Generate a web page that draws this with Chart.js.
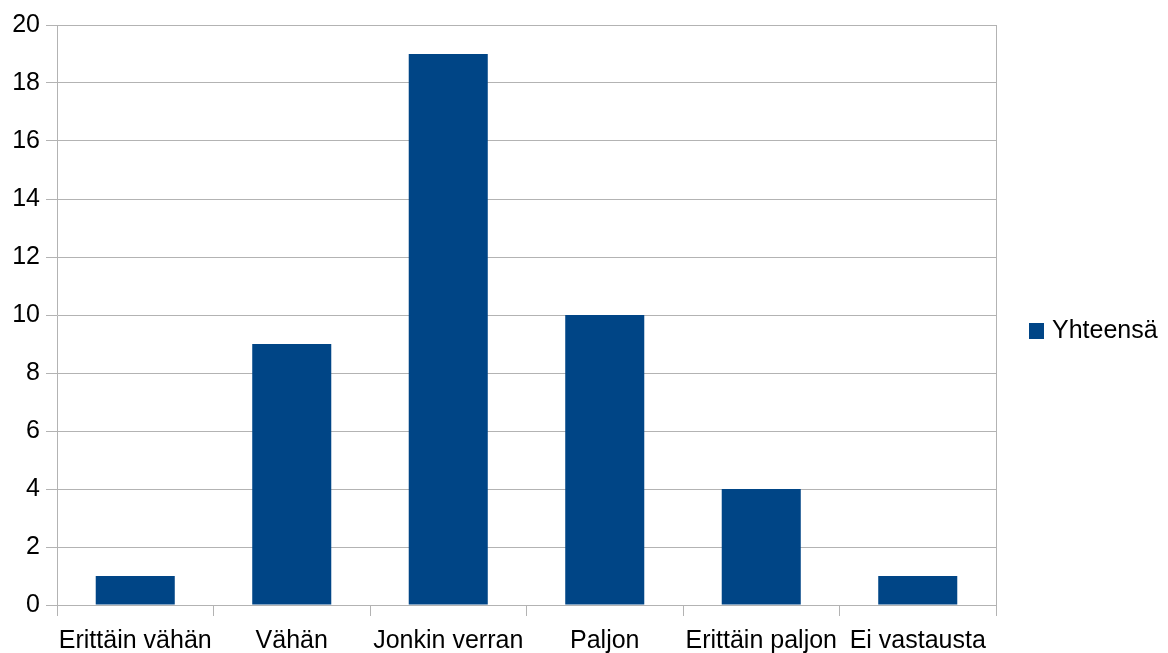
<!DOCTYPE html>
<html>
<head>
<meta charset="utf-8">
<script src="https://cdn.jsdelivr.net/npm/chart.js@4/dist/chart.umd.min.js"></script>
<style>
  html, body { margin: 0; padding: 0; background: #ffffff; }
  #wrap { width: 1168px; height: 653px; }
</style>
</head>
<body>
<div id="wrap"><canvas id="c" width="1168" height="653"></canvas></div>
<script>
const categories = ['Erittäin vähän', 'Vähän', 'Jonkin verran', 'Paljon', 'Erittäin paljon', 'Ei vastausta'];
const seriesName = 'Yhteensä';
const values = [1, 9, 19, 10, 4, 1];
const yTicks = [0, 2, 4, 6, 8, 10, 12, 14, 16, 18, 20];

const FONT = '"Liberation Sans", Arial, sans-serif';
const BAR = '#004586';
const GRID = '#b3b3b3';

// Legend drawn to the right of the plot area
const sideLegend = {
  id: 'sideLegend',
  afterDraw(chart) {
    const ctx = chart.ctx;
    const ds = chart.data.datasets[0];
    const midY = 331;
    ctx.save();
    ctx.fillStyle = ds.backgroundColor;
    ctx.fillRect(1029, 323, 15, 16);
    ctx.fillStyle = '#000000';
    ctx.font = '25px ' + FONT;
    ctx.textBaseline = 'middle';
    ctx.textAlign = 'left';
    ctx.fillText(ds.label, 1052, midY);
    ctx.restore();
  }
};

new Chart(document.getElementById('c'), {
  type: 'bar',
  data: {
    labels: categories,
    datasets: [{
      label: seriesName,
      data: values,
      backgroundColor: BAR,
      borderWidth: 0,
      categoryPercentage: 1.0,
      barPercentage: 0.505
    }]
  },
  options: {
    responsive: false,
    animation: false,
    devicePixelRatio: 1,
    layout: { padding: { top: 25, right: 172, left: 0, bottom: 0 } },
    plugins: { legend: { display: false }, tooltip: { enabled: false } },
    scales: {
      x: {
        offset: true,
        grid: {
          offset: true,
          // only the closing line on the right is drawn across the plot
          color: c => (c.type === 'tick' ? 'rgba(0,0,0,0)' : GRID),
          tickColor: GRID,
          lineWidth: 1,
          tickLength: 11
        },
        border: { color: GRID, width: 1 },
        ticks: {
          autoSkip: false,
          maxRotation: 0,
          minRotation: 0,
          color: '#000000',
          font: { family: FONT, size: 25 },
          padding: 10
        },
        afterFit(scale) { scale.height = 48; }
      },
      y: {
        min: 0,
        max: 20,
        afterBuildTicks(scale) { scale.ticks = yTicks.map(v => ({ value: v })); },
        grid: { color: GRID, lineWidth: 1, tickLength: 11 },
        border: { color: GRID, width: 1 },
        ticks: {
          color: '#000000',
          font: { family: FONT, size: 25 },
          padding: 6
        },
        afterFit(scale) { scale.width = 57; }
      }
    }
  },
  plugins: [sideLegend]
});
</script>
</body>
</html>
